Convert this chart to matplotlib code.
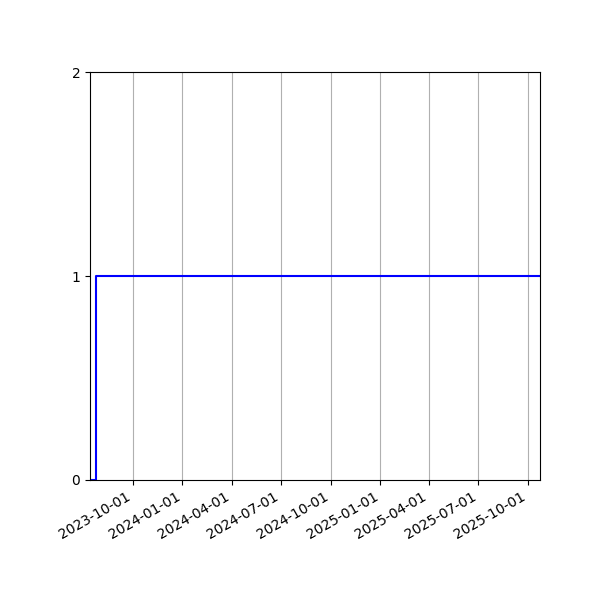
import numpy as np
import matplotlib
matplotlib.use("Agg")
import matplotlib.pyplot as plt
import matplotlib.dates as mdates

dates = np.array(["2023-07-14", "2023-07-25", "2025-10-23"], dtype="datetime64[D]")
values = [0, 1, 1]

fig, ax = plt.subplots(figsize=(6, 6), dpi=100)
ax.plot(dates, values, drawstyle="steps-post", color="blue")
ax.set_xlim(dates[0], dates[-1])
ax.set_ylim(0, 2)
ax.set_yticks([0, 1, 2])
ax.xaxis.set_major_locator(mdates.MonthLocator(bymonth=[1, 4, 7, 10]))
ax.xaxis.set_major_formatter(mdates.DateFormatter("%Y-%m-%d"))
ax.grid(axis="x")
fig.autofmt_xdate()
plt.subplots_adjust(left=0.15, right=0.9, top=0.88, bottom=0.2)
fig.savefig("out.png")
